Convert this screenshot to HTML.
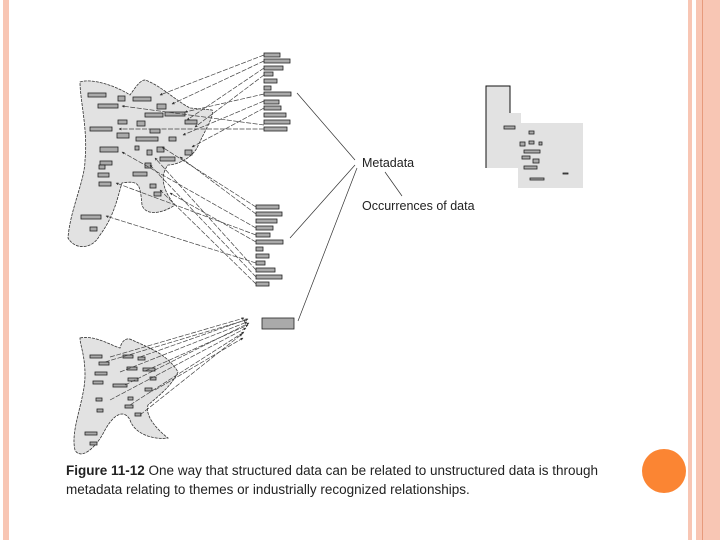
<!DOCTYPE html>
<html><head><style>
body{margin:0;width:720px;height:540px;background:#fff;position:relative;overflow:hidden;font-family:"Liberation Sans",sans-serif}
.s{position:absolute;top:0;height:540px;background:#f8c6b4}
</style></head><body>
<div class="s" style="left:3px;width:6px"></div>
<div class="s" style="left:688px;width:4px"></div>
<div class="s" style="left:696px;width:24px"></div>
<div class="s" style="left:702px;width:1px;background:#e79a7c"></div>
<div style="position:absolute;left:642px;top:449px;width:44px;height:44px;border-radius:50%;background:#fb8533"></div>
<svg width="720" height="540" style="position:absolute;left:0;top:0" font-family="Liberation Sans, sans-serif">
<defs><marker id="a" markerWidth="4" markerHeight="4" refX="3.5" refY="2" orient="auto"><path d="M0,0 L4,2 L0,4z" fill="#333"/></marker></defs>
<g fill="#e2e2e2" stroke="#333" stroke-width="0.8" stroke-dasharray="3,1">
<path d="M80,82 C90,78 115,85 130,95 C135,88 140,80 145,80 C160,85 175,100 190,108 L212,110 C215,115 205,130 197,148 C190,160 175,165 168,165 C160,175 162,190 175,205 C160,215 145,215 142,205 C140,185 140,180 122,183 C118,195 115,215 100,235 C92,250 75,250 68,238 C70,210 85,180 85,160 C88,130 80,100 80,82 Z"/>
<path d="M80,338 C95,335 110,345 120,348 C122,340 127,337 132,340 C150,348 168,355 178,372 C172,385 160,395 148,405 C145,415 155,428 168,438 C155,440 135,435 130,420 C125,410 115,412 105,430 C95,450 80,460 75,450 C70,430 85,400 85,375 C85,355 80,345 80,338 Z"/>
</g>
<path d="M486,168 L486,86 L510,86 L510,113 L521,113 L521,123 L583,123 L583,188 L518,188 L518,168 Z" fill="#e2e2e2"/>
<path d="M486,168 L486,86 L510,86 L510,113" fill="none" stroke="#111" stroke-width="1"/>
<g fill="#aaa" stroke="#222" stroke-width="0.8">
<rect x="264" y="53" width="16" height="4"/><rect x="264" y="59" width="26" height="4"/><rect x="264" y="66" width="19" height="4"/><rect x="264" y="72" width="9" height="4"/><rect x="264" y="79" width="13" height="4"/><rect x="264" y="86" width="7" height="4"/><rect x="264" y="92" width="27" height="4"/><rect x="264" y="100" width="15" height="4"/><rect x="264" y="106" width="17" height="4"/><rect x="264" y="113" width="22" height="4"/><rect x="264" y="120" width="26" height="4"/><rect x="264" y="127" width="23" height="4"/>
<rect x="256" y="205" width="23" height="4"/><rect x="256" y="212" width="26" height="4"/><rect x="256" y="219" width="21" height="4"/><rect x="256" y="226" width="17" height="4"/><rect x="256" y="233" width="14" height="4"/><rect x="256" y="240" width="27" height="4"/><rect x="256" y="247" width="7" height="4"/><rect x="256" y="254" width="13" height="4"/><rect x="256" y="261" width="9" height="4"/><rect x="256" y="268" width="19" height="4"/><rect x="256" y="275" width="26" height="4"/><rect x="256" y="282" width="13" height="4"/>
<rect x="262" y="318" width="32" height="11"/>
<rect x="88" y="93" width="18" height="4"/><rect x="98" y="104" width="20" height="4"/><rect x="118" y="96" width="7" height="5"/><rect x="133" y="97" width="18" height="4"/><rect x="157" y="104" width="9" height="5"/><rect x="145" y="113" width="18" height="4"/><rect x="165" y="112" width="20" height="4"/><rect x="90" y="127" width="22" height="4"/><rect x="118" y="120" width="9" height="4"/><rect x="137" y="121" width="8" height="5"/><rect x="150" y="129" width="10" height="4"/><rect x="185" y="120" width="12" height="4"/><rect x="117" y="133" width="12" height="5"/><rect x="136" y="137" width="22" height="4"/><rect x="169" y="137" width="7" height="4"/><rect x="100" y="147" width="18" height="5"/><rect x="135" y="146" width="4" height="4"/><rect x="147" y="150" width="5" height="5"/><rect x="157" y="147" width="7" height="5"/><rect x="185" y="150" width="7" height="5"/><rect x="100" y="161" width="12" height="4"/><rect x="160" y="157" width="15" height="4"/><rect x="99" y="165" width="6" height="4"/><rect x="145" y="163" width="6" height="5"/><rect x="133" y="172" width="14" height="4"/><rect x="98" y="173" width="11" height="4"/><rect x="99" y="182" width="12" height="4"/><rect x="150" y="184" width="6" height="4"/><rect x="154" y="192" width="7" height="4"/><rect x="81" y="215" width="20" height="4"/><rect x="90" y="227" width="7" height="4"/>
<rect x="90" y="355" width="12" height="3"/><rect x="99" y="362" width="10" height="3"/><rect x="123" y="355" width="10" height="3"/><rect x="138" y="357" width="7" height="3"/><rect x="95" y="372" width="12" height="3"/><rect x="127" y="367" width="10" height="3"/><rect x="128" y="378" width="10" height="3"/><rect x="143" y="368" width="12" height="3"/><rect x="150" y="377" width="6" height="3"/><rect x="113" y="384" width="14" height="3"/><rect x="93" y="381" width="10" height="3"/><rect x="145" y="388" width="7" height="3"/><rect x="96" y="398" width="6" height="3"/><rect x="128" y="397" width="5" height="3"/><rect x="97" y="409" width="6" height="3"/><rect x="125" y="405" width="8" height="3"/><rect x="135" y="413" width="6" height="3"/><rect x="85" y="432" width="12" height="3"/><rect x="90" y="442" width="7" height="3"/>
<rect x="504" y="126" width="11" height="3"/><rect x="529" y="131" width="5" height="3"/><rect x="529" y="141" width="5" height="3"/><rect x="520" y="142" width="5" height="4"/><rect x="539" y="142" width="3" height="3"/><rect x="524" y="150" width="16" height="3"/><rect x="522" y="156" width="8" height="3"/><rect x="533" y="159" width="6" height="4"/><rect x="524" y="166" width="13" height="3"/><rect x="530" y="178" width="14" height="2"/><rect x="563" y="173" width="5" height="1"/>
</g>
<g stroke="#444" stroke-width="0.7" stroke-dasharray="5,1.5" fill="none" marker-end="url(#a)">
<line x1="264" y1="55" x2="160" y2="95"/><line x1="264" y1="61" x2="172" y2="104"/><line x1="264" y1="68" x2="187" y2="120"/><line x1="264" y1="75" x2="195" y2="127"/><line x1="264" y1="94" x2="185" y2="112"/><line x1="264" y1="101" x2="183" y2="135"/><line x1="264" y1="108" x2="192" y2="147"/><line x1="264" y1="125" x2="122" y2="106"/><line x1="264" y1="129" x2="119" y2="129"/>
<line x1="256" y1="207" x2="162" y2="147"/><line x1="256" y1="214" x2="180" y2="157"/><line x1="256" y1="228" x2="122" y2="152"/><line x1="256" y1="235" x2="116" y2="183"/><line x1="256" y1="242" x2="170" y2="193"/><line x1="256" y1="263" x2="106" y2="216"/><line x1="256" y1="270" x2="155" y2="158"/><line x1="256" y1="277" x2="150" y2="165"/><line x1="256" y1="284" x2="160" y2="190"/>
<line x1="110" y1="357" x2="244" y2="318"/><line x1="105" y1="362" x2="246" y2="320"/><line x1="140" y1="357" x2="248" y2="319"/><line x1="120" y1="372" x2="247" y2="322"/><line x1="145" y1="371" x2="248" y2="325"/><line x1="125" y1="385" x2="249" y2="323"/><line x1="110" y1="400" x2="246" y2="328"/><line x1="130" y1="405" x2="244" y2="332"/><line x1="140" y1="415" x2="242" y2="334"/><line x1="155" y1="390" x2="243" y2="338"/>
</g>
<g stroke="#333" stroke-width="0.7" fill="none">
<line x1="355" y1="160" x2="297" y2="93"/><line x1="355" y1="165" x2="290" y2="238"/><line x1="357" y1="168" x2="298" y2="321"/><line x1="402" y1="196" x2="385" y2="172"/>
</g>
<text x="362" y="167" font-size="12.5" fill="#222">Metadata</text>
<text x="362" y="210" font-size="12.5" fill="#222">Occurrences of data</text>
<text x="66" y="475" font-size="13.5" fill="#222"><tspan font-weight="bold">Figure 11-12</tspan>   One way that structured data can be related to unstructured data is through</text>
<text x="66" y="494" font-size="13.5" fill="#222">metadata relating to themes or industrially recognized relationships.</text>
</svg>
</body></html>
